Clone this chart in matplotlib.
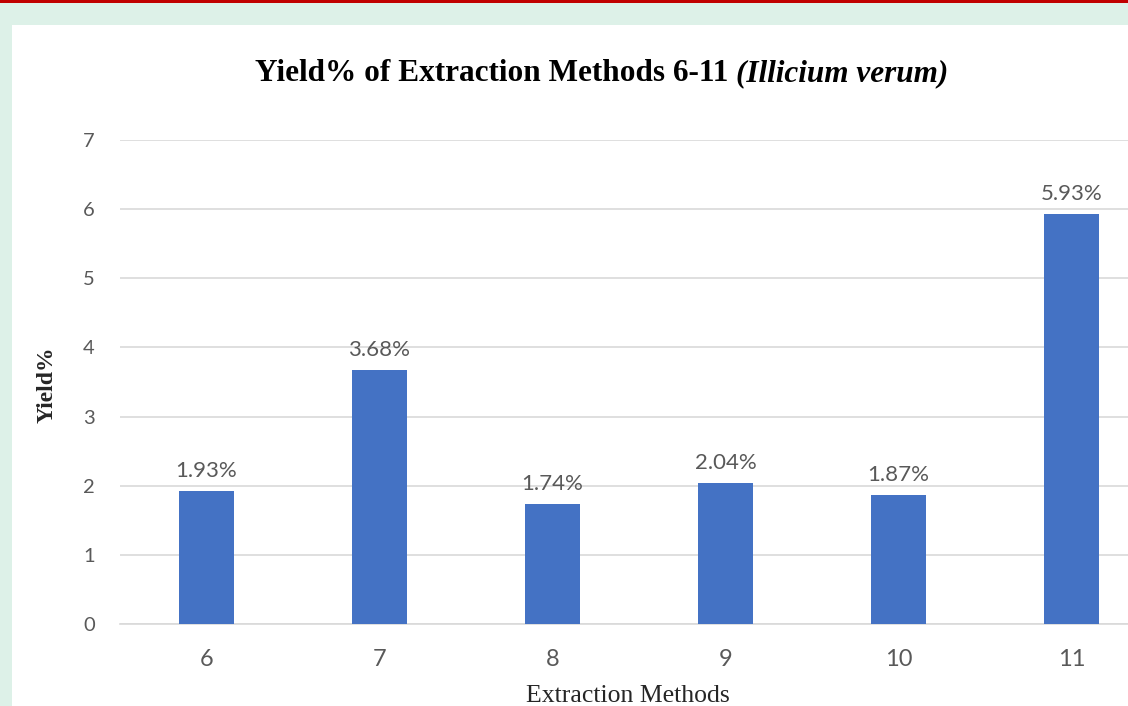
import matplotlib.pyplot as plt
from matplotlib.patches import Rectangle

# data
methods = ['6', '7', '8', '9', '10', '11']
yields = [1.93, 3.68, 1.74, 2.04, 1.87, 5.93]
yticks = [0, 1, 2, 3, 4, 5, 6, 7]

W, H = 1128, 706
fig = plt.figure(figsize=(W / 100, H / 100), dpi=100)
fig.patch.set_facecolor('#DDF1E8')

# white card and the red strip at the top
fig.patches.append(Rectangle((12 / W, 0), 1 - 12 / W, (H - 25) / H,
                             transform=fig.transFigure, facecolor='white',
                             edgecolor='none', zorder=0))
fig.patches.append(Rectangle((0, 1 - 3 / H), 1, 3 / H,
                             transform=fig.transFigure, facecolor='#C00000',
                             edgecolor='none', zorder=0))

ax = fig.add_axes([120 / W, 82 / H, 1038 / W, 484 / H])
ax.set_zorder(2)
ax.set_facecolor('none')

x = range(len(methods))
bars = ax.bar(x, yields, width=0.315, color='#4472C4', zorder=3)
for b, v in zip(bars, yields):
    ax.annotate(f'{v:.2f}%', (b.get_x() + b.get_width() / 2, v),
                xytext=(0, 10), textcoords='offset points', ha='center',
                va='baseline', fontsize=16, color='#595959', family='Lato')

ax.set_xlim(-0.5, len(methods) - 0.5)
ax.set_ylim(0, 7)
ax.set_yticks(yticks)
ax.set_xticks(list(x))
ax.set_xticklabels(methods, family='Lato', fontsize=17, color='#595959')
ax.set_yticklabels([str(t) for t in yticks], family='Lato', fontsize=14.5, color='#595959')
ax.tick_params(length=0)
ax.tick_params(axis='y', pad=18)
ax.tick_params(axis='x', pad=18)

ax.grid(axis='y', color='#D9D9D9', lw=1.2, zorder=0)
for s in ['top', 'right', 'left']:
    ax.spines[s].set_visible(False)
ax.spines['bottom'].set_color('#D9D9D9')
ax.spines['bottom'].set_linewidth(1.2)

fig.text(47 / W, 1 - 385 / H, 'Yield%', rotation=90, ha='center', va='center',
         family='Liberation Serif', fontsize=17, fontweight='bold', color='#262626')
fig.text(628 / W, 1 - 702 / H, 'Extraction Methods', ha='center', va='baseline',
         family='Liberation Serif', fontsize=18.5, color='#262626')

# title: plain bold part plus bold italic species name
t1 = fig.text(255 / W, 1 - 81 / H, 'Yield% of Extraction Methods 6-11 ',
              ha='left', va='baseline', family='Liberation Serif', fontsize=22.5,
              fontweight='bold', color='black')
ax.annotate('(Illicium verum)', xy=(1, 0), xycoords=t1, ha='left', va='bottom',
            family='Liberation Serif', fontsize=22.5, fontweight='bold',
            style='italic', color='black', annotation_clip=False)

fig.savefig('out.png', dpi=100, facecolor=fig.get_facecolor())
